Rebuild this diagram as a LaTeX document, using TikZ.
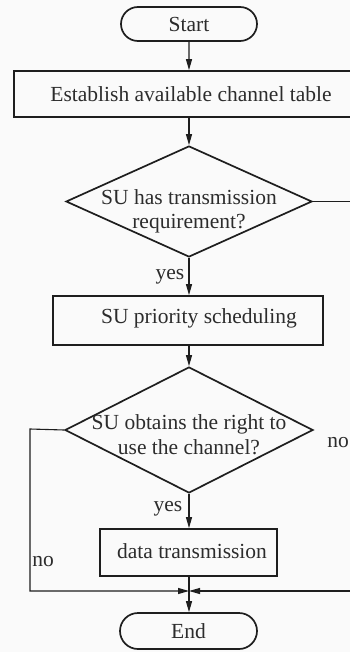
\documentclass[tikz,border=0pt]{standalone}
\usepackage{fontspec}
\setmainfont{Liberation Serif}
\usetikzlibrary{shapes.geometric,shapes.misc,arrows.meta}
\definecolor{ink}{HTML}{1E1E1E}
\definecolor{txt}{HTML}{2C2C2C}
\definecolor{paper}{HTML}{FAFAFA}
\begin{document}
\begin{tikzpicture}[x=1pt,y=-1pt,
  every node/.style={font=\fontsize{21.5}{24}\selectfont, text=txt},
  term/.style={draw=ink, line width=1.7pt, rounded rectangle, inner sep=0pt},
  procbox/.style={draw=ink, line width=1.7pt, rectangle, inner sep=0pt},
  decide/.style={draw=ink, line width=1.7pt, diamond, inner sep=0pt},
  conn/.style={draw=ink, line width=1.1pt},
  arr/.style={conn, -{Triangle[length=11pt,width=6pt]}},
  lbl/.style={inner sep=0pt}]
\useasboundingbox (0,0) rectangle (350,652);
\clip (0,0) rectangle (350,652);
\fill[paper] (0,0) rectangle (350,652);

\node[term, minimum width=136pt, minimum height=34pt] (start) at (189,24) {Start};
\node[procbox, minimum width=350pt, minimum height=46pt] (est) at (189,94) {};
\node[lbl] (estt) at (191,94) {Establish available channel table};
\node[decide, minimum width=246pt, minimum height=111pt] (d1) at (189,201.5) {};
\node[lbl, align=center] (d1t) at (189,211) {SU has transmission\\requirement?};
\node[procbox, minimum width=270pt, minimum height=49pt] (sched) at (188,320.5) {};
\node[lbl] (schedt) at (199,318) {SU priority scheduling};
\node[decide, minimum width=248pt, minimum height=126pt] (d2) at (189,430) {};
\node[lbl, align=center] (d2t) at (189,435) {SU obtains the right to\\[1pt]use the channel?};
\node[procbox, minimum width=177pt, minimum height=47pt] (data) at (188.5,552.5) {};
\node[lbl] (datat) at (192,551) {data transmission};
\node[term, minimum width=137pt, minimum height=36pt] (end) at (188.5,631) {End};

\coordinate (m) at (189,591);
\coordinate (lc1) at (30,429);
\coordinate (lc2) at (30,591);
\coordinate (rc1) at (365,201.5);
\coordinate (rc2) at (365,591);

\draw[arr] (start) -- (est);
\draw[arr] (est) -- (d1);
\draw[arr] (d1.south) -- (sched.north -| d1.south);
\draw[arr] (sched.south -| d2.north) -- (d2.north);
\draw[arr] (d2.south) -- (data.north -| d2.south);
\draw[conn] (data.south -| m) -- (m);
\draw[arr] (m) -- (end.north -| m);
\draw[arr] (d2.west) -- (lc1) -- (lc2) -- (m);
\draw[arr] (d1.east) -- (rc1) -- (rc2) -- (m);

\node[lbl] (yes1) at (170,277) {yes};
\node[lbl] (yes2) at (168,509) {yes};
\node[lbl] (no1) at (43,562) {no};
\node[lbl] (no2) at (338,443) {no};
\end{tikzpicture}
\end{document}
